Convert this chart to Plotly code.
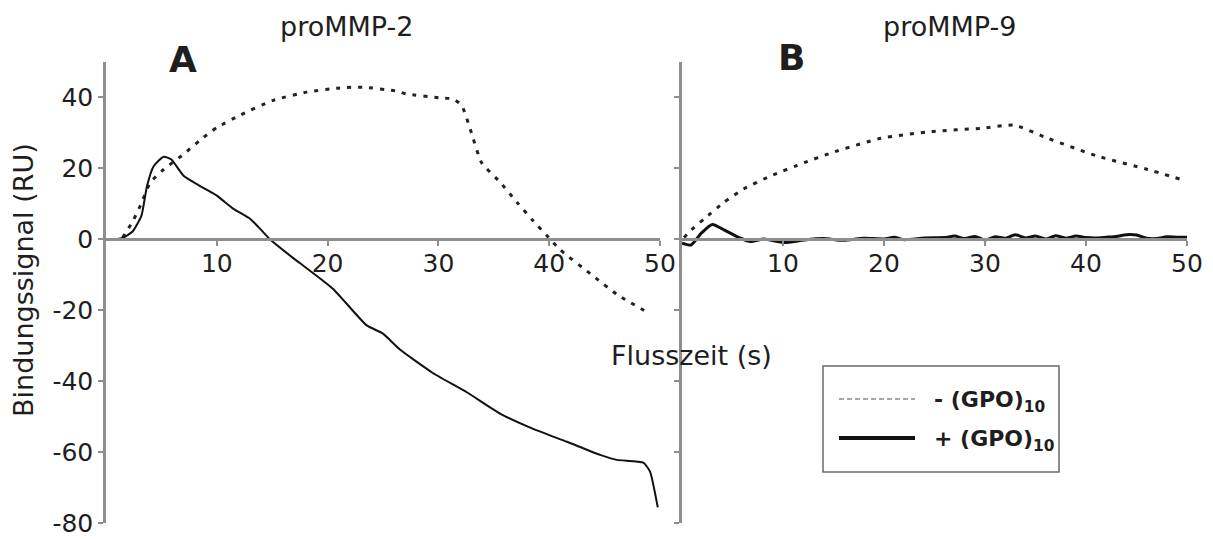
import plotly.graph_objects as go

# Flow time (s) and binding signal (RU), proMMP-2
t_mmp2_minus = [1.5, 2.4, 3.1, 4.0, 5.2, 7.0, 8.5, 10.0, 12.1, 15.1, 18.1, 21.1, 23.2, 26.2,
                27.1, 30.1, 31.3, 32.1, 32.9, 33.9, 35.6, 37.1, 38.5, 40.1, 41.0, 44.0, 46.1, 49.1]
v_mmp2_minus = [0.5, 5.0, 9.5, 16.0, 19.7, 24.0, 28.0, 31.5, 35.0, 39.2, 41.5, 42.7, 42.9, 41.8,
                41.0, 39.9, 39.6, 37.8, 30.8, 21.6, 16.0, 10.4, 5.4, 0.0, -3.0, -10.4, -15.5, -21.0]

t_mmp2_plus = [0.8, 1.5, 2.4, 3.2, 3.7, 4.3, 5.2, 5.9, 7.0, 8.5, 10.0, 11.5, 13.0, 13.9, 14.8,
               16.9, 17.5, 20.5, 23.5, 25.0, 26.5, 29.5, 32.6, 35.6, 38.5, 41.6, 44.6, 46.1,
               48.5, 49.1, 49.8]
v_mmp2_plus = [0.0, 0.4, 2.2, 6.7, 15.0, 20.6, 23.3, 22.5, 17.9, 15.0, 12.3, 8.6, 5.8, 3.0, 0.0,
               -5.3, -6.7, -14.0, -24.2, -26.6, -31.0, -37.7, -43.2, -49.2, -53.4, -57.1, -60.8,
               -62.2, -63.0, -65.5, -75.6]

# proMMP-9
t_mmp9_minus = [0.2, 0.7, 2.2, 4.2, 6.1, 8.8, 12.1, 14.8, 19.7, 24.7, 29.6, 32.9, 36.2, 41.2,
                46.1, 49.4]
v_mmp9_minus = [0.5, 2.1, 5.8, 10.5, 14.2, 17.9, 21.6, 24.4, 28.5, 30.4, 31.3, 32.2, 28.5, 23.4,
                19.7, 16.9]

t_mmp9_plus = [0.0, 0.9, 1.9, 3.0, 4.2, 5.8, 6.8, 8.1, 10.1, 12.1, 14, 16, 18, 20, 21, 22, 24,
               26, 27, 28, 29, 30, 31, 32, 33, 34, 35, 36, 37, 38, 39, 40, 41, 42, 43, 44, 45,
               46, 47, 48, 49, 50]
v_mmp9_plus = [-1.1, -1.6, 1.7, 4.2, 2.6, 0.3, -0.6, 0.1, -0.9, -0.2, 0.2, -0.3, 0.3, 0.1, 0.6,
               -0.1, 0.4, 0.5, 0.9, 0.2, 0.8, -0.2, 0.7, 0.3, 1.3, 0.4, 0.9, 0.1, 1.0, 0.3, 0.9,
               0.5, 0.4, 0.6, 0.8, 1.3, 1.2, 0.3, 0.2, 0.7, 0.6, 0.6]

x_ticks = [10, 20, 30, 40, 50]
y_ticks = [-80, -60, -40, -20, 0, 20, 40]
y_tick_text = ["-80", "-60", "-40", "-20", "0", "20", "40"]
legend_labels = ["- (GPO)<sub>10</sub>", "+ (GPO)<sub>10</sub>"]

W, H = 1213, 539


def px_x(p):
    return p / W


def px_y(p):
    return 1 - p / H


FONT = "DejaVu Sans"
AXIS_COLOR = "#8e8e8e"
TEXT_COLOR = "#1e1e1e"
DOT = "4px,7px"

fig = go.Figure()
fig.add_trace(go.Scatter(x=t_mmp2_minus, y=v_mmp2_minus, mode="lines", xaxis="x", yaxis="y",
                         line=dict(color="#222", width=3, dash=DOT, shape="spline", smoothing=0.5),
                         showlegend=False))
fig.add_trace(go.Scatter(x=t_mmp2_plus, y=v_mmp2_plus, mode="lines", xaxis="x", yaxis="y",
                         line=dict(color="#111", width=2, shape="spline", smoothing=0.5),
                         showlegend=False))
fig.add_trace(go.Scatter(x=t_mmp9_minus, y=v_mmp9_minus, mode="lines", xaxis="x2", yaxis="y2",
                         line=dict(color="#222", width=3, dash=DOT, shape="spline", smoothing=0.5),
                         showlegend=False))
fig.add_trace(go.Scatter(x=t_mmp9_plus, y=v_mmp9_plus, mode="lines", xaxis="x2", yaxis="y2",
                         line=dict(color="#111", width=3, shape="spline", smoothing=0.6),
                         showlegend=False))

y_dom = [px_y(523), px_y(62)]
y_rng = [-80, 50]
zero_pos = y_dom[0] + (0 - y_rng[0]) / (y_rng[1] - y_rng[0]) * (y_dom[1] - y_dom[0])

xaxis_common = dict(range=[0, 50], tickvals=x_ticks, showline=True, linecolor=AXIS_COLOR,
                    linewidth=2.5, ticks="outside", ticklen=5, tickwidth=1.5,
                    tickcolor=AXIS_COLOR, showgrid=False, zeroline=False, anchor="free",
                    position=zero_pos, ticklabelstandoff=-4, automargin=False,
                    ticklabeloverflow="allow",
                    tickfont=dict(family=FONT, size=25, color=TEXT_COLOR))
yaxis_common = dict(range=y_rng, domain=y_dom, tickvals=y_ticks, ticktext=y_tick_text,
                    showline=True, linecolor=AXIS_COLOR, linewidth=2.5, ticks="outside",
                    ticklen=5, tickwidth=1.5, tickcolor=AXIS_COLOR, showgrid=False,
                    zeroline=False, automargin=False, ticklabeloverflow="allow",
                    tickfont=dict(family=FONT, size=25, color=TEXT_COLOR))

fig.update_layout(
    width=W, height=H,
    margin=dict(l=0, r=0, t=0, b=0),
    paper_bgcolor="white", plot_bgcolor="white",
    showlegend=False,
    xaxis=dict(domain=[px_x(106), px_x(660)], **xaxis_common),
    xaxis2=dict(domain=[px_x(682), px_x(1187)], **xaxis_common),
    yaxis=dict(anchor="x", **yaxis_common),
    yaxis2=dict(anchor="x2", showticklabels=False, **yaxis_common),
)

annotations = [
    dict(text="proMMP-2", x=px_x(347), y=px_y(27), size=27, bold=False),
    dict(text="proMMP-9", x=px_x(949), y=px_y(27), size=27, bold=False),
    dict(text="A", x=px_x(183), y=px_y(60), size=36, bold=True),
    dict(text="B", x=px_x(791), y=px_y(58), size=36, bold=True),
    dict(text="Flusszeit (s)", x=px_x(691), y=px_y(355), size=27, bold=False),
]
for a in annotations:
    txt = f"<b>{a['text']}</b>" if a["bold"] else a["text"]
    fig.add_annotation(text=txt, x=a["x"], y=a["y"], xref="paper", yref="paper",
                       showarrow=False, xanchor="center", yanchor="middle",
                       font=dict(family=FONT, size=a["size"], color=TEXT_COLOR))

fig.add_annotation(text="Bindungssignal (RU)", x=px_x(23), y=px_y(280), xref="paper",
                   yref="paper", showarrow=False, textangle=-90, xanchor="center",
                   yanchor="middle", font=dict(family=FONT, size=27, color=TEXT_COLOR))

# Legend box drawn by hand so the sample lines are long
fig.add_shape(type="rect", xref="paper", yref="paper", x0=px_x(823), x1=px_x(1059),
              y0=px_y(472), y1=px_y(366), line=dict(color="#6a6a6a", width=1.5),
              fillcolor="white")
fig.add_shape(type="line", xref="paper", yref="paper", x0=px_x(839), x1=px_x(915),
              y0=px_y(399), y1=px_y(399), line=dict(color="#8a8a8a", width=1.5, dash="5px,3px"))
fig.add_shape(type="line", xref="paper", yref="paper", x0=px_x(839), x1=px_x(915),
              y0=px_y(438), y1=px_y(438), line=dict(color="#111", width=4))
for lab, yy in zip(legend_labels, [399, 438]):
    fig.add_annotation(text=f"<b>{lab}</b>", x=px_x(932), y=px_y(yy + 2), xref="paper",
                       yref="paper", showarrow=False, xanchor="left", yanchor="middle",
                       font=dict(family=FONT, size=22, color=TEXT_COLOR))

fig.write_html("out.html")
